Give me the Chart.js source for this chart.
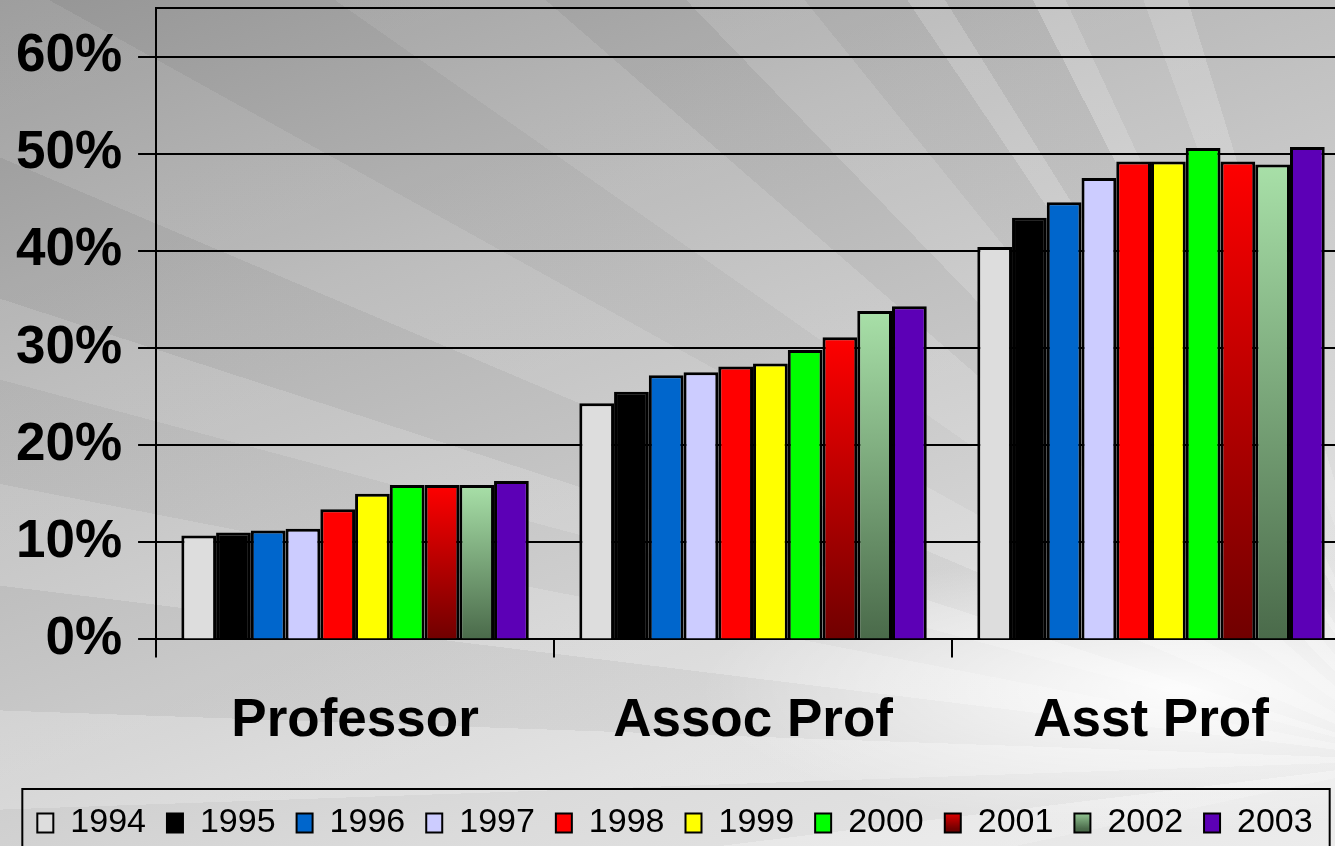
<!DOCTYPE html>
<html lang="en">
<head>
    <meta charset="UTF-8">
    <title>Faculty by rank, 1994-2003</title>
    <style>
        html, body {
            margin: 0;
            padding: 0;
            overflow: hidden;
            width: 1335px;
            height: 846px;
        }
        body {
            background:
                radial-gradient(ellipse 480px 140px at 1180px 690px, rgba(255,255,255,0.9), rgba(255,255,255,0) 100%),
                conic-gradient(from 0deg at 1420px 760px,
                    rgba(255,255,255,0) 0deg 258deg,
                    rgba(255,255,255,0.16) 258deg 263deg,
                    rgba(0,0,0,0.02) 263deg 268deg,
                    rgba(255,255,255,0.12) 268deg 272deg,
                    rgba(0,0,0,0.03) 272deg 277deg,
                    rgba(255,255,255,0.09) 277deg 281deg,
                    rgba(0,0,0,0.02) 281deg 285deg,
                    rgba(255,255,255,0.07) 285deg 288deg,
                    rgba(0,0,0,0.03) 288deg 293deg,
                    rgba(255,255,255,0.06) 293deg 299deg,
                    rgba(0,0,0,0.02) 299deg 305deg,
                    rgba(255,255,255,0.05) 305deg 311deg,
                    rgba(0,0,0,0.03) 311deg 316deg,
                    rgba(255,255,255,0.07) 316deg 321deg,
                    rgba(0,0,0,0.02) 321deg 326deg,
                    rgba(255,255,255,0.14) 326deg 328deg,
                    rgba(0,0,0,0.02) 328deg 333deg,
                    rgba(255,255,255,0.20) 333deg 335deg,
                    rgba(255,255,255,0.05) 335deg 340deg,
                    rgba(255,255,255,0.18) 340deg 343deg,
                    rgba(0,0,0,0) 343deg 360deg),
                linear-gradient(160deg, #989898 0%, #b8b8b8 30%, #cecece 55%, #dfdfdf 75%, #ececec 100%);
        }
        .wrap {
            width: 1350px;
            height: 850px;
        }
    </style>
</head>
<body>
<div class="wrap">
    <canvas id="myChart"></canvas>
</div>

<script src="https://cdn.jsdelivr.net/npm/chart.js"></script>
<script>
    const ranks = ['Professor', 'Assoc Prof', 'Asst Prof'];
    const years = ['1994', '1995', '1996', '1997', '1998', '1999', '2000', '2001', '2002', '2003'];

    // percent of faculty, one array per year: [Professor, Assoc Prof, Asst Prof]
    const v1994 = [10.7, 24.3, 40.4];
    const v1995 = [11.0, 25.5, 43.4];
    const v1996 = [11.2, 27.2, 45.0];
    const v1997 = [11.4, 27.5, 47.5];
    const v1998 = [13.4, 28.1, 49.2];
    const v1999 = [15.0, 28.4, 49.2];
    const v2000 = [15.9, 29.8, 50.6];
    const v2001 = [15.9, 31.1, 49.2];
    const v2002 = [15.9, 33.8, 48.9];
    const v2003 = [16.3, 34.3, 50.7];
    const yTicks = [0, 10, 20, 30, 40, 50, 60];

    const seriesValues = [v1994, v1995, v1996, v1997, v1998, v1999, v2000, v2001, v2002, v2003];
    const fills = ['#dddddd', '#000000', '#0066cc', '#ccccff', '#ff0000', '#ffff00', '#00ff00', '#b00000', '#80b080', '#5c00b6'];
    const gradStops = {
        7: ['#ff0000', '#700000'],
        8: ['#a8e0a8', '#4a6a4a']
    };

    const FONT = "'Liberation Sans', Arial, sans-serif";

    function barFill(i) {
        if (!gradStops[i]) return fills[i];
        const stops = gradStops[i];
        return function (ctx) {
            const chart = ctx.chart;
            if (ctx.type !== 'data' || !chart.chartArea || !chart.scales.y) return fills[i];
            const top = chart.scales.y.getPixelForValue(ctx.raw);
            const bottom = chart.scales.y.getPixelForValue(0);
            if (!isFinite(top) || !isFinite(bottom) || top === bottom) return fills[i];
            const g = chart.ctx.createLinearGradient(0, top, 0, bottom);
            g.addColorStop(0, stops[0]);
            g.addColorStop(1, stops[1]);
            return g;
        };
    }

    const datasets = years.map((y, i) => ({
        label: y,
        data: seriesValues[i],
        backgroundColor: barFill(i),
        borderColor: '#000000',
        borderWidth: 3,
        categoryPercentage: 0.873,
        barPercentage: 1.0
    }));

    const frame = {
        id: 'frame',
        afterDraw(chart) {
            const c = chart.ctx;
            const a = chart.chartArea;
            c.save();
            c.strokeStyle = '#000';
            c.lineWidth = 2;
            c.beginPath();
            c.moveTo(a.left, a.top);
            c.lineTo(a.right, a.top);
            c.stroke();
            // box round the legend
            const boxes = chart.legend.legendHitBoxes;
            if (boxes && boxes.length) {
                const minX = Math.min(...boxes.map(b => b.left));
                const maxX = Math.max(...boxes.map(b => b.left + b.width));
                c.strokeRect(minX - 15, chart.legend.top + 4, (maxX - minX) + 32, chart.legend.height + 20);
            }
            c.restore();
        }
    };

    new Chart(document.getElementById('myChart'), {
        type: 'bar',
        data: { labels: ranks, datasets: datasets },
        options: {
            responsive: true,
            maintainAspectRatio: false,
            animation: false,
            layout: { padding: { top: 8, left: 0, right: 0, bottom: 0 } },
            scales: {
                x: {
                    grid: {
                        offset: true,
                        drawOnChartArea: false,
                        color: '#000',
                        lineWidth: 2,
                        tickLength: 18
                    },
                    border: { display: true, color: '#000', width: 2 },
                    ticks: {
                        color: '#000',
                        padding: 41,
                        font: { family: FONT, size: 53, weight: 'bold', lineHeight: 0.86 }
                    }
                },
                y: {
                    min: 0,
                    max: 65,
                    afterBuildTicks(scale) {
                        scale.ticks = yTicks.map(v => ({ value: v }));
                    },
                    afterFit(scale) {
                        scale.paddingTop = 0;
                    },
                    grid: {
                        color: '#000',
                        lineWidth: 2,
                        tickLength: 18
                    },
                    border: { display: true, color: '#000', width: 2 },
                    ticks: {
                        color: '#000',
                        padding: 16,
                        callback: v => v + '%',
                        font: { family: FONT, size: 53, weight: 'bold' }
                    }
                }
            },
            plugins: {
                legend: {
                    position: 'bottom',
                    labels: {
                        color: '#000',
                        boxWidth: 16,
                        boxHeight: 19,
                        padding: 21,
                        font: { family: FONT, size: 34 },
                        generateLabels(chart) {
                            const h = chart.height;
                            return chart.data.datasets.map((ds, i) => {
                                let fill = fills[i];
                                if (gradStops[i] && isFinite(h) && h > 50) {
                                    const g = chart.ctx.createLinearGradient(0, h - 41, 0, h - 21);
                                    g.addColorStop(0, gradStops[i][0]);
                                    g.addColorStop(1, gradStops[i][1]);
                                    fill = g;
                                }
                                return {
                                    text: ds.label,
                                    fillStyle: fill,
                                    strokeStyle: '#000',
                                    lineWidth: 2,
                                    fontColor: '#000',
                                    datasetIndex: i,
                                    hidden: false
                                };
                            });
                        }
                    }
                },
                tooltip: { enabled: false }
            }
        },
        plugins: [frame]
    });
</script>
</body>
</html>
